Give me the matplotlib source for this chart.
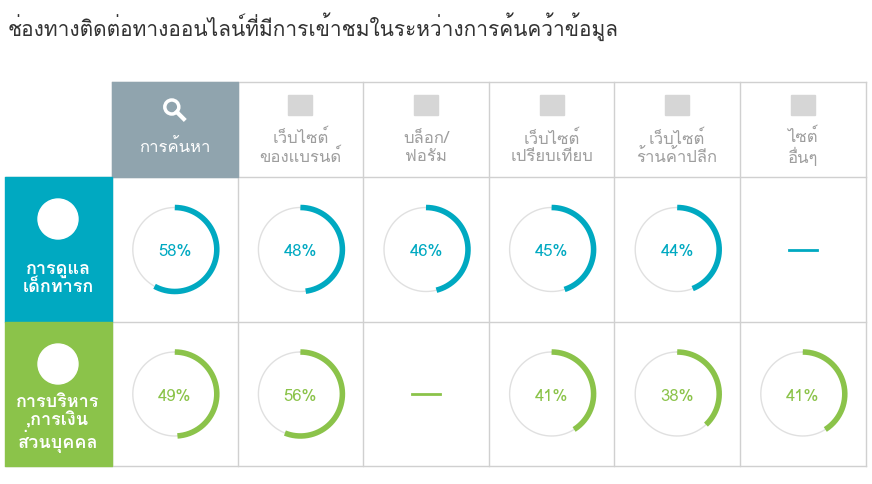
import numpy as np
import matplotlib
matplotlib.use("Agg")
import matplotlib.pyplot as plt
from matplotlib import font_manager
from matplotlib.ft2font import FT2Font
from matplotlib.patches import Rectangle, Circle

title = "ช่องทางติดต่อทางออนไลน์ที่มีการเข้าชมในระหว่างการค้นคว้าข้อมูล"
columns = ["การค้นหา", "เว็บไซต์\nของแบรนด์", "บล็อก/\nฟอรัม", "เว็บไซต์\nเปรียบเทียบ",
           "เว็บไซต์\nร้านค้าปลีก", "ไซต์\nอื่นๆ"]
rows = ["การดูแล\nเด็กทารก", "การบริหาร\n,การเงิน\nส่วนบุคคล"]
values = [[58, 48, 46, 45, 44, None],
          [49, 56, None, 41, 38, 41]]
row_colors = ["#00a9c1", "#8bc34a"]


def find_thai_family():
    """Look for any installed font that has Thai glyphs"""
    for f in font_manager.fontManager.ttflist:
        try:
            if ord('ก') in FT2Font(f.fname).get_charmap():
                return f.name
        except Exception:
            continue
    return None


fams = ['Noto Sans', 'DejaVu Sans']
thai = find_thai_family()
if thai:
    fams.insert(0, thai)
plt.rcParams['font.family'] = fams

fig = plt.figure(figsize=(8.72, 4.85), dpi=100)
ax = fig.add_axes([0, 0, 1, 1])
ax.set_xlim(0, 872)
ax.set_ylim(485, 0)
ax.axis('off')

ax.text(8, 27, title, fontsize=15, color="#333333", va='center', ha='left')

x0, cw = 112, 125.6
hy0, hy1 = 83, 178
ry = [(178, 323), (323, 467)]
grid = "#d0d0d0"

# header
for i, lab in enumerate(columns):
    xl = x0 + i * cw
    if i == 0:
        ax.add_patch(Rectangle((xl, hy0), cw, hy1 - hy0, color="#90a4ae", zorder=1))
        tc = "white"
    else:
        tc = "#9e9e9e"
    ax.text(xl + cw / 2, 148, lab, ha='center', va='center', fontsize=12,
            color=tc, linespacing=1.1)
    ic = "white" if i == 0 else "#d6d6d6"
    if i == 0:
        ax.add_patch(Circle((xl + cw / 2 - 3, 108), 7, fill=False, ec=ic, lw=2.5))
        ax.plot([xl + cw / 2 + 2, xl + cw / 2 + 9], [113, 120], color=ic, lw=3)
    else:
        ax.add_patch(Rectangle((xl + cw / 2 - 12, 96), 24, 20, color=ic))

# row labels
for r, lab in enumerate(rows):
    y0, y1 = ry[r]
    ax.add_patch(Rectangle((5, y0), x0 - 5, y1 - y0, color=row_colors[r], zorder=1))
    ax.add_patch(Circle((58, y0 + 42), 20, color="white", zorder=2))
    ax.text(58, y0 + 100, lab, ha='center', va='center', fontsize=13, color="white",
            fontweight='bold', linespacing=1.0, zorder=3)

# grid lines
for i in range(7):
    xl = x0 + i * cw
    ax.plot([xl, xl], [hy0, 467], color=grid, lw=1, zorder=0)
ax.plot([x0, 866], [hy0, hy0], color=grid, lw=1, zorder=0)
for y in [178, 323, 467]:
    ax.plot([5, 866], [y, y], color=grid, lw=1, zorder=0)

# rings
r_out = 42
t = np.linspace(0, 2 * np.pi, 200)
for r in range(2):
    y0, y1 = ry[r]
    cy = (y0 + y1) / 2
    for i, v in enumerate(values[r]):
        cx = x0 + i * cw + cw / 2
        if v is None:
            ax.plot([cx - 14, cx + 14], [cy, cy], color=row_colors[r], lw=2)
            continue
        ax.plot(cx + r_out * np.sin(t), cy - r_out * np.cos(t), color="#e0e0e0", lw=1)
        ta = np.linspace(0, 2 * np.pi * v / 100, 200)
        ax.plot(cx + r_out * np.sin(ta), cy - r_out * np.cos(ta), color=row_colors[r],
                lw=4, solid_capstyle='butt')
        ax.text(cx, cy + 2, f"{v}%", ha='center', va='center', fontsize=12,
                color=row_colors[r])

fig.savefig("out.png", dpi=100)
